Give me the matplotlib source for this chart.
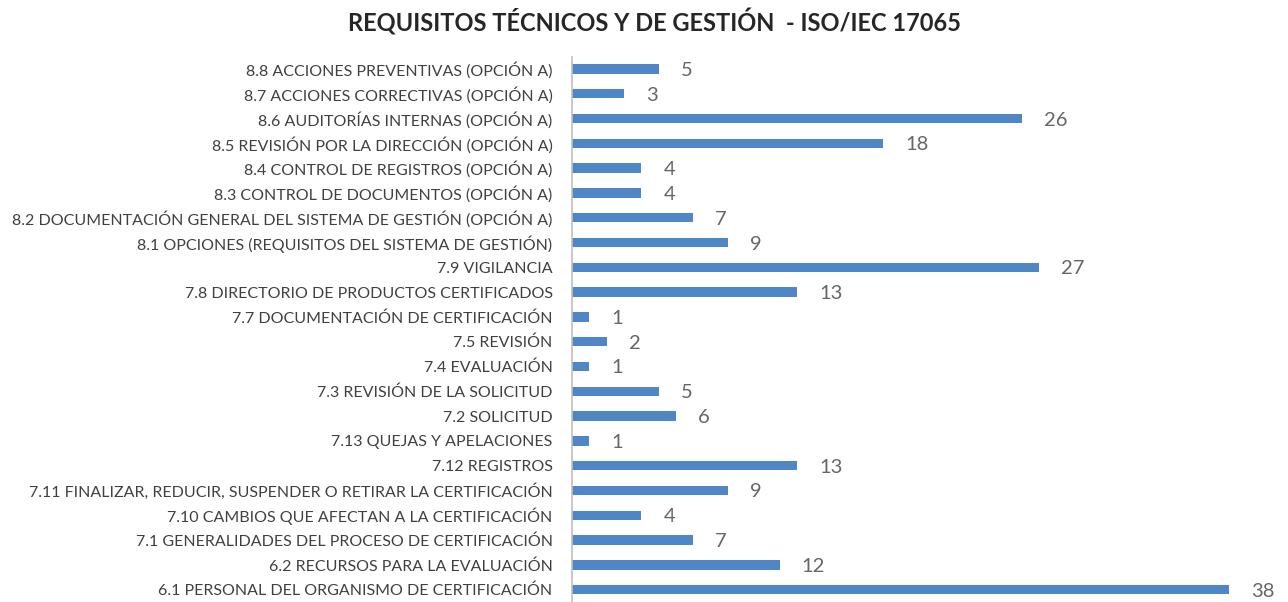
import matplotlib
matplotlib.use('Agg')
import matplotlib.pyplot as plt

# Data, bottom to top as drawn
categories = [
    '6.1 PERSONAL DEL ORGANISMO DE CERTIFICACIÓN',
    '6.2 RECURSOS PARA LA EVALUACIÓN',
    '7.1 GENERALIDADES DEL PROCESO DE CERTIFICACIÓN',
    '7.10 CAMBIOS QUE AFECTAN A LA CERTIFICACIÓN',
    '7.11 FINALIZAR, REDUCIR, SUSPENDER O RETIRAR LA CERTIFICACIÓN',
    '7.12 REGISTROS',
    '7.13 QUEJAS Y APELACIONES',
    '7.2 SOLICITUD',
    '7.3 REVISIÓN DE LA SOLICITUD',
    '7.4 EVALUACIÓN',
    '7.5 REVISIÓN',
    '7.7 DOCUMENTACIÓN DE CERTIFICACIÓN',
    '7.8 DIRECTORIO DE PRODUCTOS CERTIFICADOS',
    '7.9 VIGILANCIA',
    '8.1 OPCIONES (REQUISITOS DEL SISTEMA DE GESTIÓN)',
    '8.2 DOCUMENTACIÓN GENERAL DEL SISTEMA DE GESTIÓN (OPCIÓN A)',
    '8.3 CONTROL DE DOCUMENTOS (OPCIÓN A)',
    '8.4 CONTROL DE REGISTROS (OPCIÓN A)',
    '8.5 REVISIÓN POR LA DIRECCIÓN (OPCIÓN A)',
    '8.6 AUDITORÍAS INTERNAS (OPCIÓN A)',
    '8.7 ACCIONES CORRECTIVAS (OPCIÓN A)',
    '8.8 ACCIONES PREVENTIVAS (OPCIÓN A)',
]
values = [38, 12, 7, 4, 9, 13, 1, 6, 5, 1, 2, 1, 13, 27, 9, 7, 4, 4, 18, 26, 3, 5]

title = 'REQUISITOS TÉCNICOS Y DE GESTIÓN  - ISO/IEC 17065'

fig = plt.figure(figsize=(12.88, 6.02), dpi=100, facecolor='white')
ax = fig.add_axes([572/1288, 0.0, (1264-572)/1288, 1-56.6/602])

ypos = range(len(categories))
ax.barh(ypos, values, height=0.38, color='#4e86c6')
ax.set_ylim(-0.5, len(categories)-0.5)
ax.set_xlim(0, 40)

ax.set_yticks(list(ypos))
ax.set_yticklabels(categories, fontsize=11.5, color='#404040', family='Lato')
ax.tick_params(axis='y', length=0, pad=14)
ax.set_xticks([])

for s in ['top', 'right', 'bottom']:
    ax.spines[s].set_visible(False)
ax.spines['left'].set_color('#bfbfbf')
ax.spines['left'].set_linewidth(1.2)

for y, v in zip(ypos, values):
    ax.annotate(str(v), (v, y), xytext=(16, 0), textcoords='offset points',
                va='center_baseline', ha='left', fontsize=14.5, color='#666666',
                family='Lato')

fig.text(655/1288, 1-22/602, title, ha='center', va='center',
         fontsize=17, fontweight='bold', color='#262626', family='Lato')

fig.savefig('out.png', dpi=100)
